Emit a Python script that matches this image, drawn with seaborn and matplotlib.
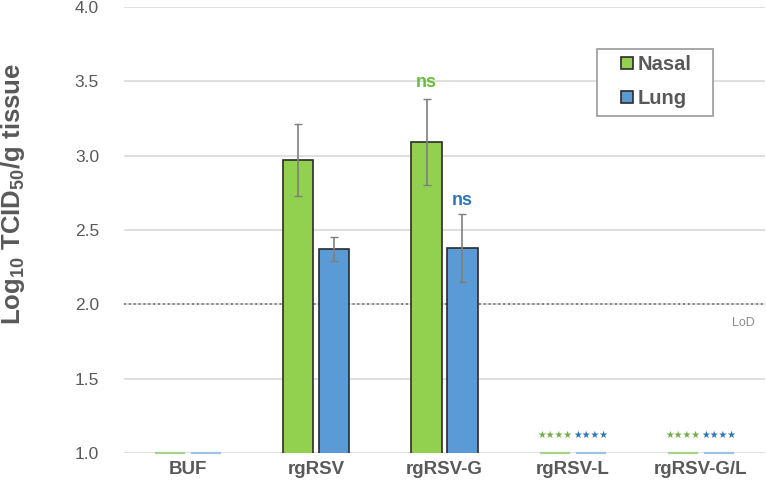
import numpy as np
import pandas as pd
import matplotlib
matplotlib.use("Agg")
import matplotlib.pyplot as plt
from matplotlib.patches import Rectangle
import seaborn as sns

# -------------------------------------
# Data
# -------------------------------------
groups = ["BUF", "rgRSV", "rgRSV-G", "rgRSV-L", "rgRSV-G/L"]
nasal = [1.0, 2.97, 3.09, 1.0, 1.0]
lung = [1.0, 2.37, 2.38, 1.0, 1.0]
nasal_err = [0.0, 0.24, 0.29, 0.0, 0.0]
lung_err = [0.0, 0.08, 0.23, 0.0, 0.0]
lod = 2.0
yticks = [1.0, 1.5, 2.0, 2.5, 3.0, 3.5, 4.0]

df = pd.DataFrame({
    "group": groups * 2,
    "tissue": ["Nasal"] * 5 + ["Lung"] * 5,
    "value": nasal + lung,
})

green = "#92d050"
blue = "#5b9bd5"
gray = "#595959"

sns.set_style("white")
plt.rcParams["font.family"] = ["Liberation Sans", "DejaVu Sans"]
plt.rcParams["mathtext.fontset"] = "custom"
plt.rcParams["mathtext.rm"] = "Liberation Sans:bold"
plt.rcParams["mathtext.default"] = "rm"

fig = plt.figure(figsize=(7.66, 4.86), dpi=100)
ax = fig.add_axes([124 / 766, 1 - 453 / 486, 641 / 766, 446 / 486])

sns.barplot(
    data=df, x="group", y="value", hue="tissue",
    palette={"Nasal": green, "Lung": blue}, saturation=1,
    width=0.56, gap=0.16, edgecolor="#2b2b2b", linewidth=1.2,
    errorbar=None, ax=ax, zorder=3,
)

ax.set_ylim(1.0, 4.0)
ax.set_xlim(-0.5, 4.5)
ax.set_yticks(yticks)
ax.set_yticklabels([f"{t:.1f}" for t in yticks], color=gray, fontsize=12.5)
ax.grid(axis="y", color="#d9d9d9", linewidth=1.2, zorder=0)
ax.tick_params(axis="y", length=0, pad=18)
ax.tick_params(axis="x", length=0, pad=6)
for lab in ax.get_xticklabels():
    lab.set_fontweight("bold")
    lab.set_color(gray)
    lab.set_fontsize(13.5)
for s in ax.spines.values():
    s.set_visible(False)

ax.set_xlabel("")
ax.set_ylabel("Log$_{10}$ TCID$_{50}$/g tissue", color=gray, fontsize=18.5,
              fontweight="bold")
ax.yaxis.set_label_coords(-0.152, 0.58)

# bars sitting at the baseline show only as a thin coloured line
light = {0: "#a9d18e", 1: "#9dc3e6"}
patches = ax.patches[:10]
for i, p in enumerate(patches):
    if p.get_height() <= 1.0:
        k = 0 if i < 5 else 1
        p.set_y(p.get_height())
        p.set_height(0)
        p.set_edgecolor(light[k])
        p.set_linewidth(1.6)
        p.set_clip_on(False)

# error bars
for i, p in enumerate(patches):
    k = i % 5
    err = nasal_err[k] if i < 5 else lung_err[k]
    if err > 0:
        ax.errorbar(p.get_x() + p.get_width() / 2, p.get_y() + p.get_height(),
                    yerr=err, color="#7f7f7f", capsize=3, linewidth=1.2,
                    zorder=4)

# limit of detection
ax.axhline(lod, color="#7f7f7f", linestyle=(0, (1, 1.5)), linewidth=1.4, zorder=2)
ax.text(4.33, 1.875, "LoD", color="#8c8c8c", fontsize=9,
        ha="center", va="center")

# significance labels
def bar_center(i):
    p = patches[i]
    return p.get_x() + p.get_width() / 2

ax.text(bar_center(2), 3.49, "ns", color="#6dbb3c", fontsize=13,
        fontweight="bold", ha="center", va="center")
ax.text(bar_center(7), 2.70, "ns", color="#2e75b6", fontsize=13,
        fontweight="bold", ha="center", va="center")
for k in [3, 4]:
    ax.text(bar_center(k), 1.12, "★★★★", color="#70ad47", fontsize=7,
            ha="center", va="center", family="DejaVu Sans")
    ax.text(bar_center(k + 5), 1.12, "★★★★", color="#2e75b6", fontsize=7,
            ha="center", va="center", family="DejaVu Sans")

# legend with its own box
box = Rectangle((597 / 766, 1 - 116 / 486), 116 / 766, 67 / 486,
                transform=fig.transFigure, facecolor="white",
                edgecolor="#999999", linewidth=1.2, zorder=5, clip_on=False)
ax.add_artist(box)
leg = ax.legend(loc="upper left", bbox_to_anchor=(621 / 766, 1 - 55 / 486),
                bbox_transform=fig.transFigure, frameon=False,
                prop={"weight": "bold", "size": 14.5}, labelcolor=gray,
                handlelength=0.6, handleheight=0.6, handletextpad=0.25,
                borderpad=0, labelspacing=0.75, borderaxespad=0)
leg.set_title(None)
leg.set_zorder(6)

plt.savefig("out.png", dpi=100)
